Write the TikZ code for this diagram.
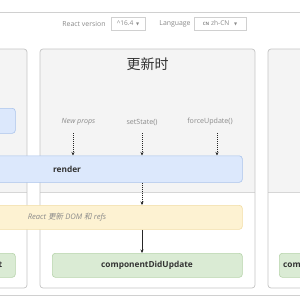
\documentclass[tikz,border=0pt]{standalone}
\usepackage{fontspec}
\setmainfont{Open Sans}
\newfontfamily\cjk{Noto Sans CJK SC}
\newfontfamily\cjkit[FakeSlant=0.2]{Noto Sans CJK SC}
\newfontfamily\dv{DejaVu Sans}
\usetikzlibrary{arrows.meta}
\definecolor{linegray}{HTML}{D0D0D0}
\definecolor{panelgray}{HTML}{F4F4F4}
\definecolor{panelborder}{HTML}{C4C4C4}
\definecolor{sepgray}{HTML}{D6D6D6}
\definecolor{txtgray}{HTML}{8A8A8A}
\definecolor{bluefill}{HTML}{DCE8FC}
\definecolor{blueline}{HTML}{A9C3EC}
\definecolor{yellowfill}{HTML}{FDF2D2}
\definecolor{yellowline}{HTML}{F2DDA4}
\definecolor{greenfill}{HTML}{DAEBD4}
\definecolor{greenline}{HTML}{B7D4AB}
\definecolor{boxtxt}{HTML}{333333}
\tikzset{
  toptext/.style={font=\fontsize{6.9}{8}\selectfont, text=txtgray, inner sep=0},
  selbox/.style={draw=linegray, fill=white, font=\fontsize{6.6}{7}\selectfont, text=txtgray, inner sep=0, minimum height=13},
  lbl/.style={font=\fontsize{7.1}{8}\selectfont, text=txtgray, inner sep=0},
  stagebox/.style={rounded corners=3, line width=0.6pt, inner sep=0, anchor=north west},
  bluebox/.style={stagebox, draw=blueline, fill=bluefill},
  yellowbox/.style={stagebox, draw=yellowline, fill=yellowfill},
  greenbox/.style={stagebox, draw=greenline, fill=greenfill},
  boxlabel/.style={font=\bfseries\fontsize{8.3}{9}\selectfont, text=boxtxt, inner sep=0},
  dasharrow/.style={draw=black!85, line width=0.5pt, dash pattern=on 1.2pt off 0.8pt, -{Stealth[length=3.5pt,width=3pt]}},
  solidarrow/.style={draw=black!85, line width=0.5pt, -{Stealth[length=3.5pt,width=3pt]}},
}
\newcommand{\panelshape}[2]{%
  \begin{scope}
    \clip[rounded corners=3] (#1,49) rectangle (#2,288);
    \fill[panelgray] (#1,49) rectangle (#2,192);
    \draw[sepgray, line width=0.6pt] (#1,192) -- (#2,192);
  \end{scope}
  \draw[panelborder, line width=0.7pt, rounded corners=3] (#1,49) rectangle (#2,288);
}
\begin{document}
\begin{tikzpicture}[x=1pt,y=-1pt]
\useasboundingbox (0,0) rectangle (300,300);
\fill[white] (0,0) rectangle (300,300);
% top and bottom rules
\draw[linegray, line width=0.6pt] (0,12) -- (300,12);
\draw[linegray, line width=0.6pt] (0,295.5) -- (300,295.5);
% header controls
\node[toptext] (rv) at (84,24) {React version};
\node[selbox, minimum width=34] (ver) at (128,23.5) {\^{}16.4 \hspace{1pt}{\dv\fontsize{4}{4}\selectfont ▼}};
\node[toptext] (lang) at (175,24) {Language};
\node[selbox, minimum width=52] (langsel) at (220,23.5) {{\bfseries\fontsize{4.5}{5}\selectfont CN} zh-CN \hspace{3pt}{\dv\fontsize{4}{4}\selectfont ▼}};
% panels
\panelshape{-10}{27}
\panelshape{40}{255}
\panelshape{268}{312}
% title
\node[inner sep=0, font=\cjk\fontsize{14}{16}\selectfont, text=boxtxt] (title) at (147.5,64) {更新时};
% triggers
\node[lbl, font=\itshape\fontsize{7.1}{8}\selectfont] (np) at (78.5,122) {New props};
\node[lbl] (ss) at (142,122) {setState()};
\node[lbl] (fu) at (210,122) {forceUpdate()};
% boxes
\node[bluebox, minimum width=25, minimum height=25] (ctor) at (-10,108) {};
\node[bluebox, minimum width=252, minimum height=26.5] (render) at (-10,155.5) {};
\node[boxlabel] (rendertxt) at (67,169.5) {render};
\node[yellowbox, minimum width=252, minimum height=24] (dom) at (-10,205) {};
\node[inner sep=0, text=txtgray, font=\itshape\fontsize{7.6}{8}\selectfont] (domtxt) at (67,217.5) {React {\cjkit 更新} DOM {\cjkit 和} refs};
\node[greenbox, minimum width=25, minimum height=24] (cdm) at (-10,253) {};
\node[boxlabel, anchor=east] (cdmtxt) at (2.5,265.5) {componentDidMount};
\node[greenbox, minimum width=190, minimum height=24] (cdu) at (52,253) {};
\node[boxlabel] (cdutxt) at (147,265.5) {componentDidUpdate};
\node[greenbox, minimum width=35, minimum height=24] (cwu) at (279,253) {};
\node[boxlabel, anchor=west] (cwutxt) at (283,265.5) {componentWillUnmount};
% arrows
\coordinate (npa) at (73,133);
\coordinate (ssa) at (142,133);
\coordinate (fua) at (217,133);
\draw[dasharrow] (npa) -- (npa |- render.north);
\draw[dasharrow] (ssa) -- (ssa |- render.north);
\draw[dasharrow] (fua) -- (fua |- render.north);
\draw[dasharrow] (ssa |- render.south) -- (ssa |- dom.north);
\draw[solidarrow] (ssa |- dom.south) -- (ssa |- cdu.north);
\end{tikzpicture}
\end{document}
